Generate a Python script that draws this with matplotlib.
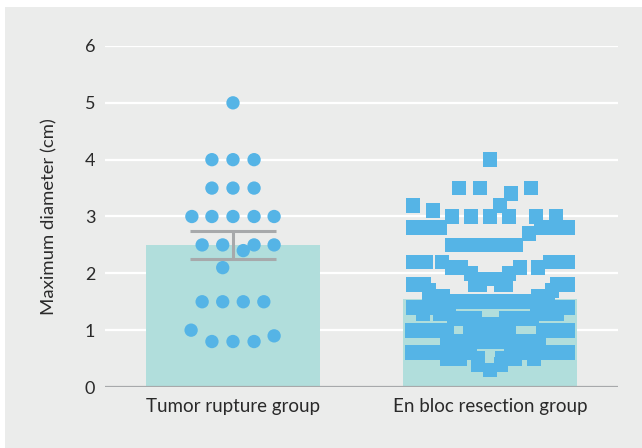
import matplotlib
matplotlib.use("Agg")
import matplotlib.pyplot as plt
import numpy as np

groups = ["Tumor rupture group", "En bloc resection group"]
means = [2.5, 1.55]
sem = [0.24, 0.0]

# tumor rupture group: values and horizontal spread (category units)
rupture_vals = [5.0, 4.0, 4.0, 4.0, 3.5, 3.5, 3.5, 3.0, 3.0, 3.0, 3.0, 3.0,
                2.5, 2.5, 2.5, 2.5, 2.4, 2.1, 1.5, 1.5, 1.5, 1.5, 1.0,
                0.8, 0.8, 0.8, 0.9]
rupture_off = [0, -0.082, 0, 0.082, -0.082, 0, 0.082, -0.16, -0.082, 0, 0.082, 0.16,
               -0.12, -0.04, 0.082, 0.16, 0.04, -0.04, -0.12, -0.04, 0.04, 0.12, -0.163,
               -0.082, 0, 0.082, 0.16]

# en bloc resection group: rows of value -> horizontal positions (pixels)
enbloc_rows = {
    4.0: [490],
    3.5: [459, 480, 531],
    3.4: [511],
    3.2: [413, 500],
    3.1: [433],
    3.0: [452, 471, 490, 509, 536, 556],
    2.8: [413, 426, 440, 541, 554, 568],
    2.7: [529],
    2.5: [452, 465, 478, 490, 503, 516],
    2.2: [413, 426, 442, 550, 563, 568],
    2.1: [452, 461, 520, 538],
    2.0: [471, 509],
    1.9: [485, 495],
    1.8: [413, 424, 475, 480, 501, 506, 557, 568],
    1.7: [429, 552],
    1.6: [429, 443, 538, 548],
    1.5: [447, 460, 473, 486, 499, 512, 525, 534],
    1.4: [413, 426, 439, 449, 537, 550, 563, 568],
    1.3: [423, 440, 546, 557],
    1.2: [454, 467, 475, 506, 519, 532],
    1.1: [470, 483, 496, 509],
    1.0: [412, 425, 438, 447, 470, 483, 496, 509, 543, 556, 568],
    0.8: [447, 460, 473, 486, 499, 512, 525, 539],
    0.6: [412, 425, 438, 451, 464, 470, 511, 524, 537, 550, 563, 568],
    0.5: [447, 460, 478, 502, 515, 534],
    0.4: [478, 501],
    0.3: [490],
}
enbloc_vals = []
enbloc_off = []
for v, xs in enbloc_rows.items():
    for px in xs:
        enbloc_vals.append(v)
        enbloc_off.append((px - 490) / 257)

bar_col = "#b1dedc"
dot_col = "#55b4e6"
grey = "#a7a9ab"
bg = "#ebeceb"
txt = "#2a2a2a"

fig = plt.figure(figsize=(6.42, 4.48), dpi=100)
fig.patch.set_facecolor("white")
fig.patches.append(plt.Rectangle((5 / 642, 0), 637 / 642, 441 / 448, transform=fig.transFigure,
                                 facecolor=bg, edgecolor="none", zorder=-10))
ax = fig.add_axes([105 / 642, 61 / 448, 513 / 642, 341 / 448])
ax.patch.set_visible(False)

x = np.arange(len(groups))
ax.bar(x, means, width=0.677, color=bar_col, zorder=2)
ax.errorbar(x[0], means[0], yerr=sem[0], color=grey, lw=2.2, capsize=31, capthick=2.2, zorder=3)

ax.scatter(x[0] + np.array(rupture_off), rupture_vals, s=92, marker="o", color=dot_col,
           edgecolors="none", zorder=4, clip_on=False)
ax.scatter(x[1] + np.array(enbloc_off), enbloc_vals, s=114, marker="s", color=dot_col,
           edgecolors="none", zorder=4, clip_on=False)

for g in range(1, 7):
    ax.axhline(g, color="white", lw=1.6, zorder=1)
ax.axhline(0, color=grey, lw=1.6, zorder=5)

ax.set_xlim(-0.498, 1.498)
ax.set_ylim(0, 6)
ax.set_yticks(range(0, 7))
ax.set_xticks(x)
ax.set_xticklabels(groups)
for s in ax.spines.values():
    s.set_visible(False)
ax.tick_params(length=0, labelsize=13, colors=txt, pad=7)
ax.tick_params(axis="x", labelsize=13.5, pad=8)
for lab in ax.get_xticklabels() + ax.get_yticklabels():
    lab.set_family("Lato")
ax.set_ylabel("Maximum diameter (cm)", family="Lato", fontsize=13.3, color=txt, labelpad=20)

fig.savefig("out.png", dpi=100, facecolor=fig.get_facecolor())
